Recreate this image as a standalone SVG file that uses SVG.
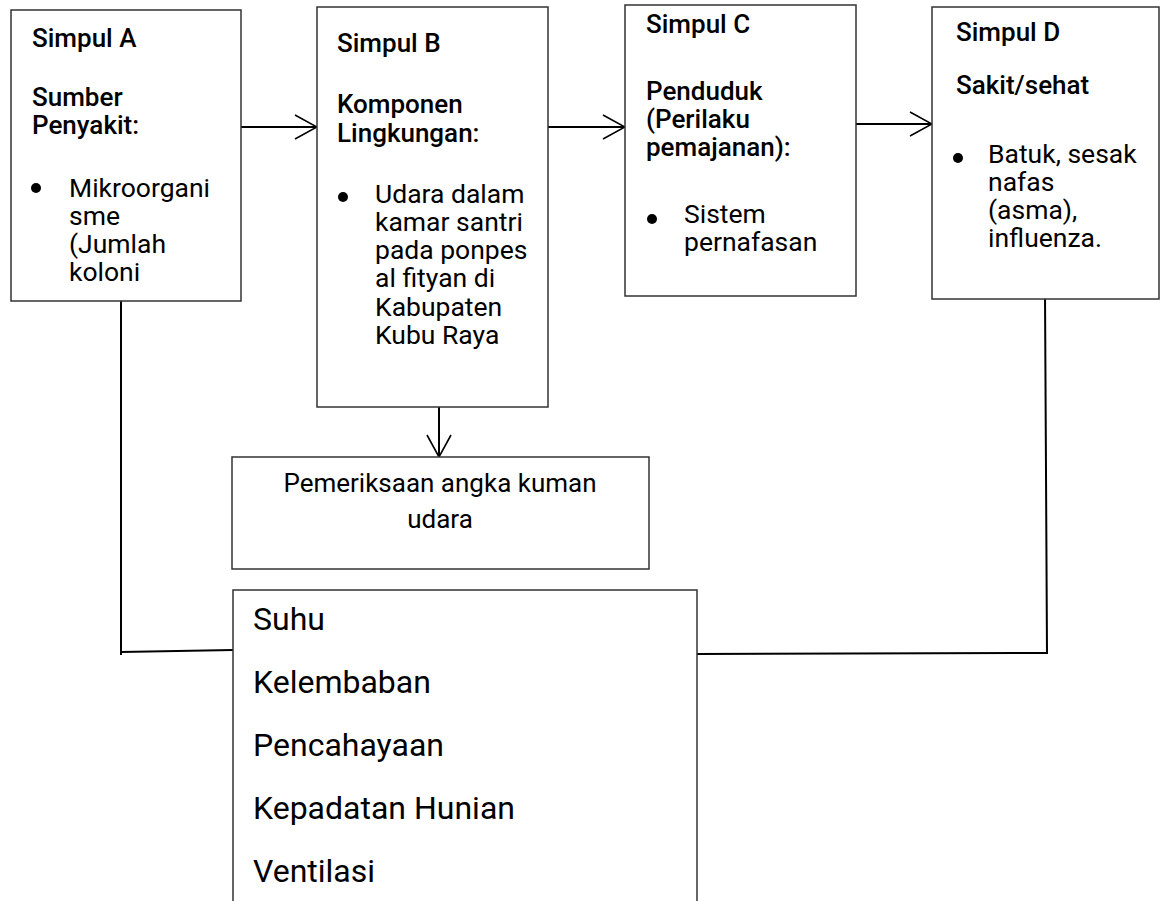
<svg xmlns="http://www.w3.org/2000/svg" width="1163" height="901" viewBox="0 0 1163 901">
<style>
.box{fill:#fff;stroke:#333;stroke-width:1.5}
.ln{fill:none;stroke:#000;stroke-width:2}
text{font-family:Roboto,"Liberation Sans",sans-serif;fill:#000}
.h{font-size:26px;font-weight:500}
.t{font-size:26.5px}
.c{font-size:26px;text-anchor:middle}
.b{font-size:32px}
.dot{fill:#000}
</style>
<defs>
<marker id="open" viewBox="0 0 24 26" refX="23" refY="13" markerWidth="24" markerHeight="26" markerUnits="userSpaceOnUse" orient="auto">
<path d="M1,1 L23,13 L1,25" fill="none" stroke="#000" stroke-width="1.6"/>
</marker>
</defs>
<rect width="1163" height="901" fill="#fff"/>
<g id="connectors">
<line class="ln" x1="241" y1="127" x2="317" y2="127" marker-end="url(#open)"/>
<line class="ln" x1="548" y1="127" x2="625" y2="127" marker-end="url(#open)"/>
<line class="ln" x1="854" y1="124" x2="932" y2="124" marker-end="url(#open)"/>
<line class="ln" x1="439" y1="407" x2="439" y2="457" marker-end="url(#open)"/>
<polyline class="ln" points="121,296 121,655"/>
<polyline class="ln" points="121,652 233,650"/>
<polyline class="ln" points="1045,294 1047,653 697,654"/>
</g>
<g id="simpulA">
<rect class="box" x="11" y="10" width="230" height="291"/>
<text class="h" x="32" y="47">Simpul A</text>
<text class="h" x="32" y="106">Sumber</text>
<text class="h" x="32" y="134">Penyakit:</text>
<circle class="dot" cx="36" cy="188" r="5"/>
<text class="t" x="69" y="197">Mikroorgani</text>
<text class="t" x="69" y="225">sme</text>
<text class="t" x="69" y="253">(Jumlah</text>
<text class="t" x="69" y="281">koloni</text>
</g>
<g id="simpulB">
<rect class="box" x="317" y="7" width="231" height="400"/>
<text class="h" x="337" y="52">Simpul B</text>
<text class="h" x="337" y="113">Komponen</text>
<text class="h" x="337" y="142">Lingkungan:</text>
<circle class="dot" cx="343" cy="197" r="5"/>
<text class="t" x="375" y="203">Udara dalam</text>
<text class="t" x="375" y="231">kamar santri</text>
<text class="t" x="375" y="259">pada ponpes</text>
<text class="t" x="375" y="287">al fityan di</text>
<text class="t" x="375" y="316">Kabupaten</text>
<text class="t" x="375" y="344">Kubu Raya</text>
</g>
<g id="simpulC">
<rect class="box" x="625" y="5" width="231" height="291"/>
<text class="h" x="646" y="33">Simpul C</text>
<text class="h" x="646" y="100">Penduduk</text>
<text class="h" x="646" y="128">(Perilaku</text>
<text class="h" x="646" y="156">pemajanan):</text>
<circle class="dot" cx="652" cy="219" r="5"/>
<text class="t" x="684" y="223">Sistem</text>
<text class="t" x="684" y="251">pernafasan</text>
</g>
<g id="simpulD">
<rect class="box" x="932" y="7" width="227" height="292"/>
<text class="h" x="956" y="41">Simpul D</text>
<text class="h" x="956" y="94">Sakit/sehat</text>
<circle class="dot" cx="958" cy="158" r="5"/>
<text class="t" x="988" y="163">Batuk, sesak</text>
<text class="t" x="988" y="191">nafas</text>
<text class="t" x="988" y="219">(asma),</text>
<text class="t" x="988" y="247">influenza.</text>
</g>
<g id="pemeriksaan">
<rect class="box" x="232" y="457" width="417" height="112"/>
<text class="c" x="440" y="492">Pemeriksaan angka kuman</text>
<text class="c" x="440" y="528">udara</text>
</g>
<g id="faktor">
<rect class="box" x="233" y="590" width="464" height="340"/>
<text class="b" x="253" y="630">Suhu</text>
<text class="b" x="253" y="693">Kelembaban</text>
<text class="b" x="253" y="756">Pencahayaan</text>
<text class="b" x="253" y="819">Kepadatan Hunian</text>
<text class="b" x="253" y="882">Ventilasi</text>
</g>
</svg>
